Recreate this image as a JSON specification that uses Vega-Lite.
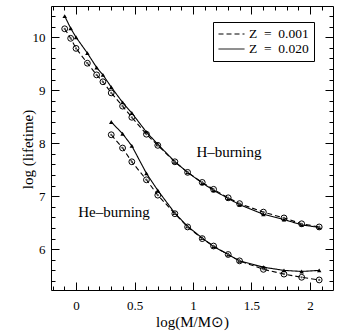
{
  "$schema": "https://vega.github.io/schema/vega-lite/v6.json",
  "autosize": {"type": "none"},
  "width": 282,
  "height": 284,
  "padding": {"left": 51, "top": 6, "right": 8, "bottom": 42},
  "background": "white",
  "config": {
    "view": {"stroke": null},
    "font": "Liberation Serif",
    "axis": {"grid": false, "domainColor": "black", "tickColor": "black", "labelColor": "black", "titleColor": "black", "titleFontWeight": "normal", "labelFlush": false, "labelFont": "Liberation Serif", "titleFont": "Liberation Serif", "labelFontSize": 13, "titleFontSize": 15, "tickWidth": 1}
  },
  "datasets": {
    "tracks": [
      {"burn": "H", "Z": "Z = 0.020", "logM": -0.097, "logT": 10.40},
      {"burn": "H", "Z": "Z = 0.020", "logM": -0.046, "logT": 10.17},
      {"burn": "H", "Z": "Z = 0.020", "logM": 0.0, "logT": 10.00},
      {"burn": "H", "Z": "Z = 0.020", "logM": 0.097, "logT": 9.70},
      {"burn": "H", "Z": "Z = 0.020", "logM": 0.176, "logT": 9.43},
      {"burn": "H", "Z": "Z = 0.020", "logM": 0.230, "logT": 9.29},
      {"burn": "H", "Z": "Z = 0.020", "logM": 0.301, "logT": 9.06},
      {"burn": "H", "Z": "Z = 0.020", "logM": 0.398, "logT": 8.77},
      {"burn": "H", "Z": "Z = 0.020", "logM": 0.477, "logT": 8.57},
      {"burn": "H", "Z": "Z = 0.020", "logM": 0.602, "logT": 8.21},
      {"burn": "H", "Z": "Z = 0.020", "logM": 0.699, "logT": 7.98},
      {"burn": "H", "Z": "Z = 0.020", "logM": 0.845, "logT": 7.65},
      {"burn": "H", "Z": "Z = 0.020", "logM": 0.954, "logT": 7.45},
      {"burn": "H", "Z": "Z = 0.020", "logM": 1.079, "logT": 7.25},
      {"burn": "H", "Z": "Z = 0.020", "logM": 1.176, "logT": 7.11},
      {"burn": "H", "Z": "Z = 0.020", "logM": 1.301, "logT": 6.96},
      {"burn": "H", "Z": "Z = 0.020", "logM": 1.398, "logT": 6.84},
      {"burn": "H", "Z": "Z = 0.020", "logM": 1.602, "logT": 6.66},
      {"burn": "H", "Z": "Z = 0.020", "logM": 1.778, "logT": 6.56},
      {"burn": "H", "Z": "Z = 0.020", "logM": 1.929, "logT": 6.46},
      {"burn": "H", "Z": "Z = 0.020", "logM": 2.079, "logT": 6.41},
      {"burn": "H", "Z": "Z = 0.001", "logM": -0.097, "logT": 10.16},
      {"burn": "H", "Z": "Z = 0.001", "logM": -0.046, "logT": 9.98},
      {"burn": "H", "Z": "Z = 0.001", "logM": 0.0, "logT": 9.79},
      {"burn": "H", "Z": "Z = 0.001", "logM": 0.097, "logT": 9.51},
      {"burn": "H", "Z": "Z = 0.001", "logM": 0.176, "logT": 9.29},
      {"burn": "H", "Z": "Z = 0.001", "logM": 0.230, "logT": 9.16},
      {"burn": "H", "Z": "Z = 0.001", "logM": 0.301, "logT": 8.95},
      {"burn": "H", "Z": "Z = 0.001", "logM": 0.398, "logT": 8.70},
      {"burn": "H", "Z": "Z = 0.001", "logM": 0.477, "logT": 8.49},
      {"burn": "H", "Z": "Z = 0.001", "logM": 0.602, "logT": 8.17},
      {"burn": "H", "Z": "Z = 0.001", "logM": 0.699, "logT": 7.96},
      {"burn": "H", "Z": "Z = 0.001", "logM": 0.845, "logT": 7.65},
      {"burn": "H", "Z": "Z = 0.001", "logM": 0.954, "logT": 7.45},
      {"burn": "H", "Z": "Z = 0.001", "logM": 1.079, "logT": 7.26},
      {"burn": "H", "Z": "Z = 0.001", "logM": 1.176, "logT": 7.13},
      {"burn": "H", "Z": "Z = 0.001", "logM": 1.301, "logT": 6.97},
      {"burn": "H", "Z": "Z = 0.001", "logM": 1.398, "logT": 6.86},
      {"burn": "H", "Z": "Z = 0.001", "logM": 1.602, "logT": 6.70},
      {"burn": "H", "Z": "Z = 0.001", "logM": 1.778, "logT": 6.59},
      {"burn": "H", "Z": "Z = 0.001", "logM": 1.929, "logT": 6.48},
      {"burn": "H", "Z": "Z = 0.001", "logM": 2.079, "logT": 6.42},
      {"burn": "He", "Z": "Z = 0.020", "logM": 0.301, "logT": 8.40},
      {"burn": "He", "Z": "Z = 0.020", "logM": 0.398, "logT": 8.18},
      {"burn": "He", "Z": "Z = 0.020", "logM": 0.477, "logT": 7.95},
      {"burn": "He", "Z": "Z = 0.020", "logM": 0.602, "logT": 7.43},
      {"burn": "He", "Z": "Z = 0.020", "logM": 0.699, "logT": 7.11},
      {"burn": "He", "Z": "Z = 0.020", "logM": 0.845, "logT": 6.68},
      {"burn": "He", "Z": "Z = 0.020", "logM": 0.954, "logT": 6.43},
      {"burn": "He", "Z": "Z = 0.020", "logM": 1.079, "logT": 6.21},
      {"burn": "He", "Z": "Z = 0.020", "logM": 1.176, "logT": 6.05},
      {"burn": "He", "Z": "Z = 0.020", "logM": 1.301, "logT": 5.90},
      {"burn": "He", "Z": "Z = 0.020", "logM": 1.398, "logT": 5.78},
      {"burn": "He", "Z": "Z = 0.020", "logM": 1.602, "logT": 5.66},
      {"burn": "He", "Z": "Z = 0.020", "logM": 1.778, "logT": 5.60},
      {"burn": "He", "Z": "Z = 0.020", "logM": 1.929, "logT": 5.58},
      {"burn": "He", "Z": "Z = 0.020", "logM": 2.079, "logT": 5.60},
      {"burn": "He", "Z": "Z = 0.001", "logM": 0.301, "logT": 8.16},
      {"burn": "He", "Z": "Z = 0.001", "logM": 0.398, "logT": 7.91},
      {"burn": "He", "Z": "Z = 0.001", "logM": 0.477, "logT": 7.65},
      {"burn": "He", "Z": "Z = 0.001", "logM": 0.602, "logT": 7.31},
      {"burn": "He", "Z": "Z = 0.001", "logM": 0.699, "logT": 7.02},
      {"burn": "He", "Z": "Z = 0.001", "logM": 0.845, "logT": 6.67},
      {"burn": "He", "Z": "Z = 0.001", "logM": 0.954, "logT": 6.42},
      {"burn": "He", "Z": "Z = 0.001", "logM": 1.079, "logT": 6.20},
      {"burn": "He", "Z": "Z = 0.001", "logM": 1.176, "logT": 6.06},
      {"burn": "He", "Z": "Z = 0.001", "logM": 1.301, "logT": 5.90},
      {"burn": "He", "Z": "Z = 0.001", "logM": 1.398, "logT": 5.78},
      {"burn": "He", "Z": "Z = 0.001", "logM": 1.602, "logT": 5.62},
      {"burn": "He", "Z": "Z = 0.001", "logM": 1.778, "logT": 5.53},
      {"burn": "He", "Z": "Z = 0.001", "logM": 1.929, "logT": 5.47},
      {"burn": "He", "Z": "Z = 0.001", "logM": 2.079, "logT": 5.42}
    ],
    "notes": [
      {"label": "H–burning", "logM": 1.308, "logT": 7.84},
      {"label": "He–burning", "logM": 0.325, "logT": 6.70}
    ]
  },
  "data": {"name": "tracks"},
  "resolve": {"axis": {"x": "independent", "y": "independent"}},
  "layer": [
    {
      "mark": {"type": "line", "color": "black", "strokeWidth": 1.1},
      "encoding": {
        "x": {"field": "logM", "type": "quantitative", "scale": {"domain": [-0.214, 2.197], "nice": false, "zero": false},
          "axis": {"orient": "bottom", "values": [0, 0.5, 1, 1.5, 2], "tickSize": -8,
            "labelExpr": "format(datum.value,'~g')",
            "labelPadding": 17, "title": "log(M/M⊙)", "titlePadding": 2}},
        "y": {"field": "logT", "type": "quantitative", "scale": {"domain": [5.23, 10.59], "nice": false, "zero": false},
          "axis": {"orient": "left", "values": [6, 7, 8, 9, 10], "tickSize": -8,
            "labelExpr": "format(datum.value,'~g')",
            "labelPadding": 14, "title": "log (lifetime)", "titleX": -24, "titleY": 143, "titleBaseline": "middle", "titleAngle": -90}},
        "detail": {"field": "burn"},
        "strokeDash": {"field": "Z", "type": "nominal",
          "scale": {"domain": ["Z = 0.001", "Z = 0.020"], "range": [[5, 3], [1, 0]]},
          "legend": {"title": null, "orient": "none", "legendX": 162, "legendY": 16, "symbolType": "M-1,0H3", "symbolSize": 169, "symbolStrokeColor": "black", "symbolFillColor": "transparent", "symbolStrokeWidth": 1, "labelFontSize": 13.5, "labelFont": "Liberation Serif", "labelColor": "black", "strokeColor": "black", "padding": 5, "labelOffset": 17, "rowPadding": 1, "labelExpr": "replace(datum.label, / = /, '\u2002=\u2002')"}}
      }
    },
    {
      "mark": {"type": "point", "opacity": 0},
      "encoding": {
        "x": {"field": "logM", "type": "quantitative", "scale": {"domain": [-0.214, 2.197], "nice": false, "zero": false},
          "axis": {"orient": "top", "values": [0, 0.5, 1, 1.5, 2], "tickSize": -8, "labels": false, "title": null}},
        "y": {"field": "logT", "type": "quantitative", "scale": {"domain": [5.23, 10.59], "nice": false, "zero": false},
          "axis": {"orient": "right", "values": [6, 7, 8, 9, 10], "tickSize": -8, "labels": false, "title": null}}
      }
    },
    {
      "mark": {"type": "point", "opacity": 0},
      "encoding": {
        "x": {"field": "logM", "type": "quantitative", "scale": {"domain": [-0.214, 2.197], "nice": false, "zero": false},
          "axis": {"orient": "bottom", "values": [-0.2, -0.1, 0.1, 0.2, 0.3, 0.4, 0.6, 0.7, 0.8, 0.9, 1.1, 1.2, 1.3, 1.4, 1.6, 1.7, 1.8, 1.9, 2.1], "tickSize": -4, "labels": false, "title": null, "domain": false}},
        "y": {"field": "logT", "type": "quantitative", "scale": {"domain": [5.23, 10.59], "nice": false, "zero": false},
          "axis": {"orient": "left", "values": [5.4, 5.6, 5.8, 6.2, 6.4, 6.6, 6.8, 7.2, 7.4, 7.6, 7.8, 8.2, 8.4, 8.6, 8.8, 9.2, 9.4, 9.6, 9.8, 10.2, 10.4], "tickSize": -4, "labels": false, "title": null, "domain": false}}
      }
    },
    {
      "mark": {"type": "point", "opacity": 0},
      "encoding": {
        "x": {"field": "logM", "type": "quantitative", "scale": {"domain": [-0.214, 2.197], "nice": false, "zero": false},
          "axis": {"orient": "top", "values": [-0.2, -0.1, 0.1, 0.2, 0.3, 0.4, 0.6, 0.7, 0.8, 0.9, 1.1, 1.2, 1.3, 1.4, 1.6, 1.7, 1.8, 1.9, 2.1], "tickSize": -4, "labels": false, "title": null, "domain": false}},
        "y": {"field": "logT", "type": "quantitative", "scale": {"domain": [5.23, 10.59], "nice": false, "zero": false},
          "axis": {"orient": "right", "values": [5.4, 5.6, 5.8, 6.2, 6.4, 6.6, 6.8, 7.2, 7.4, 7.6, 7.8, 8.2, 8.4, 8.6, 8.8, 9.2, 9.4, 9.6, 9.8, 10.2, 10.4], "tickSize": -4, "labels": false, "title": null, "domain": false}}
      }
    },
    {
      "transform": [{"filter": "datum.Z === 'Z = 0.020'"}],
      "mark": {"type": "point", "shape": "triangle-up", "filled": true, "color": "black", "size": 20, "opacity": 1},
      "encoding": {
        "x": {"field": "logM", "type": "quantitative", "axis": null},
        "y": {"field": "logT", "type": "quantitative", "axis": null}
      }
    },
    {
      "transform": [{"filter": "datum.Z === 'Z = 0.001'"}],
      "mark": {"type": "point", "shape": "circle", "filled": false, "color": "black", "size": 34, "strokeWidth": 1, "opacity": 1},
      "encoding": {
        "x": {"field": "logM", "type": "quantitative", "axis": null},
        "y": {"field": "logT", "type": "quantitative", "axis": null}
      }
    },
    {
      "transform": [{"filter": "datum.Z === 'Z = 0.001'"}],
      "mark": {"type": "point", "shape": "circle", "filled": true, "color": "#555", "size": 5, "opacity": 1},
      "encoding": {
        "x": {"field": "logM", "type": "quantitative", "axis": null},
        "y": {"field": "logT", "type": "quantitative", "axis": null}
      }
    },
    {
      "data": {"name": "notes"},
      "mark": {"type": "text", "font": "Liberation Serif", "fontSize": 15, "color": "black", "align": "center", "baseline": "middle"},
      "encoding": {
        "x": {"field": "logM", "type": "quantitative", "axis": null},
        "y": {"field": "logT", "type": "quantitative", "axis": null},
        "text": {"field": "label"}
      }
    }
  ]
}
